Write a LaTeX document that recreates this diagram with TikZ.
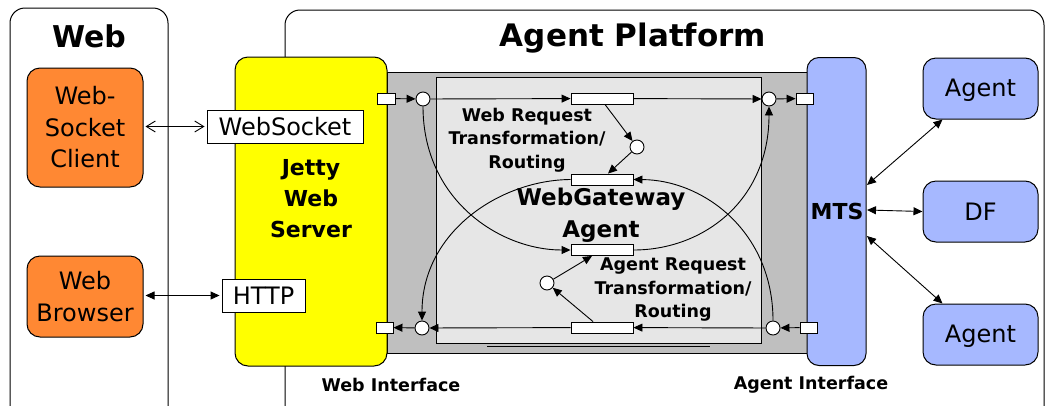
\documentclass[tikz,border=0pt]{standalone}
\usepackage{fontspec}
\setmainfont{DejaVu Sans}
\usetikzlibrary{arrows.meta}
\definecolor{orng}{RGB}{255,136,51}
\definecolor{blu}{RGB}{166,184,255}
\definecolor{gry}{RGB}{191,191,191}
\definecolor{lgry}{RGB}{230,230,230}
\definecolor{yel}{RGB}{255,255,0}
\tikzset{
  frame/.style={draw, line width=1pt, rounded corners=15pt},
  box/.style={draw, line width=1pt, rounded corners=13pt, inner sep=0pt, align=center},
  lab/.style={draw, line width=0.9pt, fill=white, inner sep=0pt, font=\fontsize{24}{30}\selectfont},
  port/.style={draw, line width=0.9pt, fill=white, inner sep=0pt, minimum height=11pt},
  trans/.style={draw, line width=0.9pt, fill=white, inner sep=0pt, minimum width=62pt, minimum height=11pt},
  place/.style={draw, circle, line width=0.9pt, fill=white, inner sep=0pt, minimum size=14pt},
  arr/.style={line width=0.9pt, -{Triangle[length=9pt,width=8pt]}},
  darr/.style={line width=0.9pt, {Triangle[length=9pt,width=8pt]}-{Triangle[length=9pt,width=8pt]}},
  bigtxt/.style={font=\fontsize{24}{31.5}\selectfont, align=center, inner sep=0pt},
  boldtxt/.style={font=\bfseries\fontsize{22}{31}\selectfont, align=center, inner sep=0pt},
  smalltxt/.style={font=\bfseries\fontsize{17.5}{23.5}\selectfont, align=center, inner sep=0pt},
}
\begin{document}
\begin{tikzpicture}[x=1pt,y=-1pt]
\useasboundingbox (0,0) rectangle (1046,405);
% outer frames
\draw[frame] (10,440) -- (10,8) -- (168,8) -- (168,440);
\node[font=\bfseries\fontsize{30}{30}\selectfont, inner sep=0pt] (webtitle) at (89,36) {Web};
\draw[frame] (285,440) -- (285,10) -- (1044,10) -- (1044,440);
\node[font=\bfseries\fontsize{31}{31}\selectfont, inner sep=0pt] (aptitle) at (633,38) {Agent Platform};
% gray region
\node[draw, line width=0.9pt, fill=gry, minimum width=421pt, minimum height=281pt, inner sep=0pt] (gray) at (597.5,212.5) {};
\node[draw, line width=0.9pt, fill=lgry, minimum width=325pt, minimum height=266pt, inner sep=0pt] (inner) at (598.5,210) {};
\draw[line width=1.4pt] (487,346.5) -- (710,346.5);
% Jetty and MTS
\node[box, fill=yel, minimum width=152pt, minimum height=309pt] (jetty) at (311,211.5) {};
\node[boldtxt] (jettytxt) at (311,199) {Jetty\\Web\\Server};
\node[box, fill=blu, rounded corners=12pt, minimum width=59pt, minimum height=308pt] (mts) at (836.5,211.5) {};
\node[boldtxt] (mtstxt) at (837,211) {MTS};
% web clients
\node[box, fill=orng, minimum width=116pt, minimum height=119pt, bigtxt] (wsc) at (85,127.5) {Web-\\Socket\\Client};
\node[box, fill=orng, minimum width=116pt, minimum height=81pt, bigtxt] (wb) at (85,296.5) {Web\\Browser};
\node[lab, minimum width=156pt, minimum height=33pt] (ws) at (285,126.5) {WebSocket};
\node[lab, minimum width=83pt, minimum height=33pt] (http) at (263.5,295.5) {HTTP};
\draw[line width=0.9pt, {Straight Barb[length=9pt,width=11pt]}-{Straight Barb[length=9pt,width=11pt]}] ([xshift=2pt]wsc.east |- ws.west) -- ([xshift=-2pt]ws.west);
\draw[darr] ([xshift=2pt]wb.east |- http.west) -- ([xshift=-2pt]http.west);
% agents
\node[box, fill=blu, minimum width=115pt, minimum height=61pt] (ag1) at (980.5,88.5) {};
\node[bigtxt] (ag1t) at (980.5,90) {Agent};
\node[box, fill=blu, minimum width=115pt, minimum height=61pt, bigtxt] (df) at (980.5,211.5) {DF};
\node[box, fill=blu, minimum width=115pt, minimum height=61pt] (ag2) at (980.5,334.5) {};
\node[bigtxt] (ag2t) at (980.5,336) {Agent};
\coordinate (m1) at (867,185);
\coordinate (m2) at (867,210);
\coordinate (m3) at (867,236);
\draw[darr] (m1) -- ([xshift=20pt]ag1.south west);
\draw[darr] (m2) -- (df.west);
\draw[darr] (m3) -- ([xshift=20pt]ag2.north west);
% ports, places, transitions
\node[port, minimum width=18pt] (pL1) at (386,98.5) {};
\node[port, minimum width=17pt] (pR1) at (804.5,98.5) {};
\node[port, minimum width=17pt] (pL2) at (384.5,327.5) {};
\node[port, minimum width=17pt] (pR2) at (808.5,327.5) {};
\node[place] (cL1) at (423,99) {};
\node[place] (cR1) at (769,99) {};
\node[place] (cL2) at (422,328) {};
\node[place] (cR2) at (773,328) {};
\node[place] (cM1) at (637,147) {};
\node[place] (cM2) at (547,283) {};
\node[trans] (t1) at (602,98.5) {};
\node[trans] (t2) at (602,179.5) {};
\node[trans] (t3) at (602,250) {};
\node[trans] (t4) at (602,327.5) {};
% flows
\draw[arr] (pL1) -- (cL1);
\draw[arr] (cL1) -- (t1);
\draw[arr] (t1) -- (cR1);
\draw[arr] (cR1) -- (pR1);
\draw[arr] (pR2) -- (cR2);
\draw[arr] (cR2) -- (t4);
\draw[arr] (t4) -- (cL2);
\draw[arr] (cL2) -- (pL2);
\draw[arr] ([xshift=3pt]t1.south) -- (cM1);
\draw[arr] (cM1) -- ([xshift=6pt]t2.north);
\draw[arr] ([xshift=-9pt]t4.north) -- (cM2);
\draw[arr] (cM2) -- ([xshift=-10pt]t3.south);
\draw[arr] (cL1.south) .. controls (423,200) and (500,250) .. (t3.west);
\draw[arr] (t3.east) .. controls (704,250) and (769,200) .. (cR1.south);
\draw[arr] (t2.west) .. controls (500,180) and (422,232) .. (cL2.north);
\draw[arr] (cR2.north) .. controls (773,232) and (704,180) .. (t2.east);
% texts
\node[smalltxt] (wrt) at (527,140) {Web Request\\Transformation/\\Routing};
\node[font=\bfseries\fontsize{23}{32}\selectfont, align=center, inner sep=0pt] (wga) at (601,215) {WebGateway\\Agent};
\node[smalltxt] (art) at (673,290) {Agent Request\\Transformation/\\Routing};
\node[font=\bfseries\fontsize{17.5}{20}\selectfont, inner sep=0pt] (wi) at (391,385) {Web Interface};
\node[font=\bfseries\fontsize{17.5}{20}\selectfont, inner sep=0pt] (ai) at (811,385) {Agent Interface};
\end{tikzpicture}
\end{document}
